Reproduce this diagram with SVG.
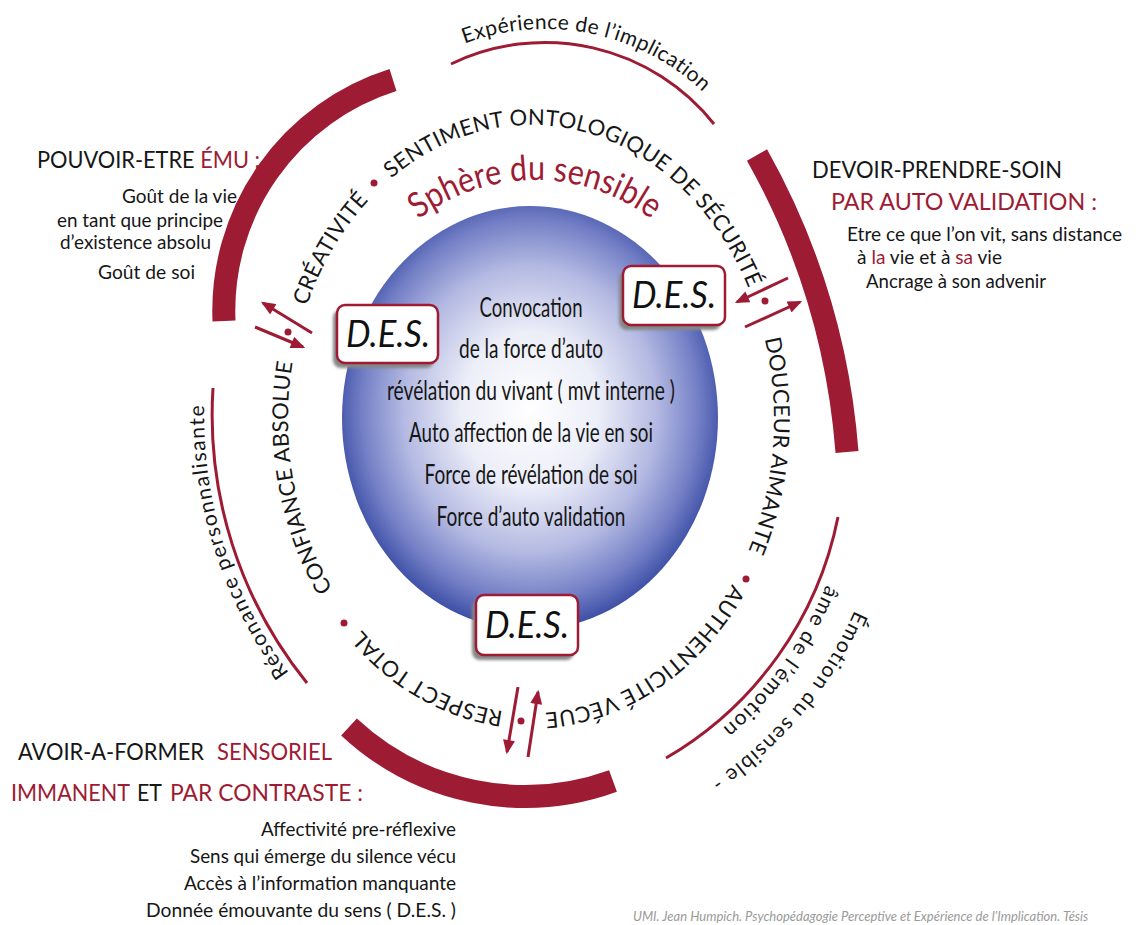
<svg xmlns="http://www.w3.org/2000/svg" width="1139" height="925" viewBox="0 0 1139 925">
<defs>
<style>
.f{font-family:Lato,"Open Sans","Liberation Sans",sans-serif}
.k{fill:#161616}
.r{fill:#9e1b34}
.ring{font-family:Lato,"Open Sans","Liberation Sans",sans-serif;font-size:22px;letter-spacing:0.3px;fill:#161616}
.thick{fill:none;stroke:#9e1b34;stroke-width:23}
.thin{fill:none;stroke:#9e1b34;stroke-width:3}
.arrow{fill:none;stroke:#9e1b34;stroke-width:3;marker-end:url(#ah)}
.dot{fill:#9e1b34}
.head{font-size:23px}
.body{font-size:19px}
.ctr{font-size:27px;fill:#161616}
.box{fill:#fff;stroke:#9e1b34;stroke-width:2.5}
.shadow{fill:#858585;filter:url(#blur)}
.des{font-family:Lato,"Open Sans","Liberation Sans",sans-serif;font-size:36px;font-style:italic;fill:#111}
.outer{font-family:Lato,"Open Sans","Liberation Sans",sans-serif;font-size:21px;fill:#161616}
</style>
<radialGradient id="sph" cx="50%" cy="48%" r="52%">
<stop offset="0" stop-color="#ffffff"/>
<stop offset="0.35" stop-color="#eceef8"/>
<stop offset="0.65" stop-color="#b3b9e2"/>
<stop offset="0.86" stop-color="#7480c6"/>
<stop offset="1" stop-color="#3d4fa6"/>
</radialGradient>
<filter id="blur" x="-20%" y="-20%" width="140%" height="140%"><feGaussianBlur stdDeviation="1.5"/></filter>
<marker id="ah" viewBox="0 0 12 10" refX="10" refY="5" markerWidth="15" markerHeight="12" markerUnits="userSpaceOnUse" orient="auto"><path d="M0,0 L12,5 L0,10 z" fill="#9e1b34"/></marker>
<path id="pSent" d="M 368.4 200.5 A 243 294 0 0 1 759.3 318.4"/>
<path id="pCrea" d="M 292.5 362.9 A 243 294 0 0 1 413.2 161.9"/>
<path id="pConf" d="M 366.5 635.4 A 243 294 0 0 1 306.7 306.0"/>
<path id="pDouc" d="M 742.7 274.7 A 243 294 0 0 1 715.5 610.3"/>
<path id="pAuth" d="M 757.1 526.8 A 243 294 0 0 1 482.5 707.1"/>
<path id="pResp" d="M 553.4 711.7 A 243 294 0 0 1 332.7 588.9"/>
<path id="pSph" d="M 367.9 276.5 A 193 193 0 0 1 702.1 276.5"/>
<path id="pExp" d="M 368.8 111.2 A 230 230 0 0 1 764.9 191.7"/>
<path id="pRes" d="M 389.1 770.5 A 434 434 0 0 1 230.2 266.6"/>
<path id="pEmo1" d="M 888.5 468.1 A 404 404 0 0 1 575.9 840.6"/>
<path id="pEmo2" d="M 853 447 A 368 368 0 0 1 598.7 797"/>
</defs>
<rect width="1139" height="925" fill="#ffffff"/>

<g id="outer-arcs">
<path class="thick" d="M 393 80 A 242 242 0 0 0 224 321"/>
<path class="thick" d="M 757 155 A 721 721 0 0 1 847 452"/>
<path class="thick" d="M 349 727 A 258 258 0 0 0 613 781"/>
<path class="thin" d="M 451 64 A 216 216 0 0 1 714 124"/>
<path class="thin" d="M 213 388 A 426 426 0 0 0 307 683"/>
<path class="thin" d="M 838 517 A 360 360 0 0 1 666 758"/>
</g>

<g id="outer-labels">
<text class="outer" letter-spacing="0.4" text-anchor="middle"><textPath href="#pExp" startOffset="50%">Expérience de l’implication</textPath></text>
<text class="outer" letter-spacing="1.5" text-anchor="middle"><textPath href="#pRes" startOffset="50%">Résonance personnalisante</textPath></text>
<text class="outer" letter-spacing="1.4" text-anchor="middle"><textPath href="#pEmo1" startOffset="50%">Émotion du sensible -</textPath></text>
<text class="outer" letter-spacing="1.4" text-anchor="middle"><textPath href="#pEmo2" startOffset="50%">âme de l’émotion</textPath></text>
</g>

<g id="sphere">
<ellipse cx="530" cy="418" rx="188" ry="212" fill="url(#sph)"/>
<text class="f r" font-size="35" text-anchor="middle"><textPath href="#pSph" startOffset="50%" textLength="250" lengthAdjust="spacingAndGlyphs">Sphère du sensible</textPath></text>
<g class="f ctr" text-anchor="middle">
<text x="531" y="317" textLength="103" lengthAdjust="spacingAndGlyphs">Convocation</text>
<text x="531" y="358" textLength="144" lengthAdjust="spacingAndGlyphs">de la force d’auto</text>
<text x="531" y="400" textLength="288" lengthAdjust="spacingAndGlyphs">révélation du vivant ( mvt interne )</text>
<text x="531" y="442" textLength="244" lengthAdjust="spacingAndGlyphs">Auto affection de la vie en soi</text>
<text x="531" y="484" textLength="213" lengthAdjust="spacingAndGlyphs">Force de révélation de soi</text>
<text x="531" y="526" textLength="189" lengthAdjust="spacingAndGlyphs">Force d’auto validation</text>
</g>
</g>

<g id="ring-labels">
<text class="ring" text-anchor="middle"><textPath href="#pCrea" startOffset="50%">CRÉATIVITÉ</textPath></text>
<text class="ring" text-anchor="middle"><textPath href="#pSent" startOffset="50%">SENTIMENT ONTOLOGIQUE DE SÉCURITÉ</textPath></text>
<text class="ring" text-anchor="middle"><textPath href="#pDouc" startOffset="50%">DOUCEUR AIMANTE</textPath></text>
<text class="ring" text-anchor="middle" letter-spacing="0"><textPath href="#pAuth" startOffset="50%">AUTHENTICITÉ VÉCUE</textPath></text>
<text class="ring" text-anchor="middle"><textPath href="#pResp" startOffset="50%">RESPECT TOTAL</textPath></text>
<text class="ring" text-anchor="middle"><textPath href="#pConf" startOffset="50%">CONFIANCE ABSOLUE</textPath></text>
<circle class="dot" cx="374" cy="183" r="3.5"/>
<circle class="dot" cx="746" cy="579" r="3.5"/>
<circle class="dot" cx="344" cy="623" r="3.5"/>
</g>

<g id="connectors">
<path class="arrow" d="M 312 333 L 263 303"/>
<path class="arrow" d="M 255 327 L 303 347"/>
<circle class="dot" cx="288" cy="332" r="3.5"/>
<path class="arrow" d="M 788 278 L 737 302"/>
<path class="arrow" d="M 745 327 L 800 302"/>
<circle class="dot" cx="765" cy="301" r="3.5"/>
<path class="arrow" d="M 518 687 L 507 752"/>
<path class="arrow" d="M 528 757 L 538 692"/>
<circle class="dot" cx="521" cy="721" r="3.5"/>
</g>

<g id="des-left">
<rect class="shadow" x="333" y="310" width="101" height="58" rx="8"/>
<rect class="box" x="337" y="305" width="101" height="58" rx="8"/>
<text class="des" x="388" y="347" text-anchor="middle" textLength="84" lengthAdjust="spacingAndGlyphs">D.E.S.</text>
</g>
<g id="des-right">
<rect class="shadow" x="619" y="271" width="102" height="59" rx="8"/>
<rect class="box" x="623" y="266" width="102" height="59" rx="8"/>
<text class="des" x="674" y="308" text-anchor="middle" textLength="84" lengthAdjust="spacingAndGlyphs">D.E.S.</text>
</g>
<g id="des-bottom">
<rect class="shadow" x="472" y="600" width="102" height="60" rx="8"/>
<rect class="box" x="476" y="595" width="102" height="60" rx="8"/>
<text class="des" x="527" y="638" text-anchor="middle" textLength="84" lengthAdjust="spacingAndGlyphs">D.E.S.</text>
</g>

<g id="pouvoir-etre" class="f">
<text class="head k" x="37" y="168" textLength="223" lengthAdjust="spacingAndGlyphs">POUVOIR-ETRE <tspan class="r">ÉMU :</tspan></text>
<text class="body k" x="122" y="203" textLength="115" lengthAdjust="spacingAndGlyphs">Goût de la vie</text>
<text class="body k" x="57" y="227" textLength="166" lengthAdjust="spacingAndGlyphs">en tant que principe</text>
<text class="body k" x="60" y="249" textLength="151" lengthAdjust="spacingAndGlyphs">d’existence absolu</text>
<text class="body k" x="98" y="279" textLength="97" lengthAdjust="spacingAndGlyphs">Goût de soi</text>
</g>

<g id="devoir-prendre-soin" class="f">
<text class="head k" x="812" y="178" textLength="250" lengthAdjust="spacingAndGlyphs">DEVOIR-PRENDRE-SOIN</text>
<text class="head r" x="831" y="210" textLength="266" lengthAdjust="spacingAndGlyphs">PAR AUTO VALIDATION :</text>
<text class="body k" x="847" y="241" textLength="275" lengthAdjust="spacingAndGlyphs">Etre ce que l’on vit, sans distance</text>
<text class="body k" x="857" y="264" textLength="145" lengthAdjust="spacingAndGlyphs">à <tspan class="r">la</tspan> vie et à <tspan class="r">sa</tspan> vie</text>
<text class="body k" x="866" y="288" textLength="180" lengthAdjust="spacingAndGlyphs">Ancrage à son advenir</text>
</g>

<g id="avoir-a-former" class="f">
<text class="k" font-size="24" x="18" y="760" textLength="186" lengthAdjust="spacingAndGlyphs">AVOIR-A-FORMER</text>
<text class="r" font-size="24" x="217" y="760" textLength="115" lengthAdjust="spacingAndGlyphs">SENSORIEL</text>
<text class="r" font-size="24" x="11" y="801" textLength="119" lengthAdjust="spacingAndGlyphs">IMMANENT</text>
<text class="k" font-size="24" x="137" y="801" textLength="25" lengthAdjust="spacingAndGlyphs">ET</text>
<text class="r" font-size="24" x="170" y="801" textLength="193" lengthAdjust="spacingAndGlyphs">PAR CONTRASTE :</text>
<text class="body k" x="456" y="836" text-anchor="end" textLength="195" lengthAdjust="spacingAndGlyphs">Affectivité pre-réflexive</text>
<text class="body k" x="456" y="863" text-anchor="end" textLength="266" lengthAdjust="spacingAndGlyphs">Sens qui émerge du silence vécu</text>
<text class="body k" x="456" y="890" text-anchor="end" textLength="272" lengthAdjust="spacingAndGlyphs">Accès à l’information manquante</text>
<text class="body k" x="456" y="917" text-anchor="end" textLength="310" lengthAdjust="spacingAndGlyphs">Donnée émouvante du sens ( D.E.S. )</text>
</g>

<g id="footer">
<text class="f" x="633" y="921" font-size="13" font-style="italic" fill="#9a9a9a">UMI. Jean Humpich. Psychopédagogie Perceptive et Expérience de l’Implication. Tésis</text>
</g>
</svg>
